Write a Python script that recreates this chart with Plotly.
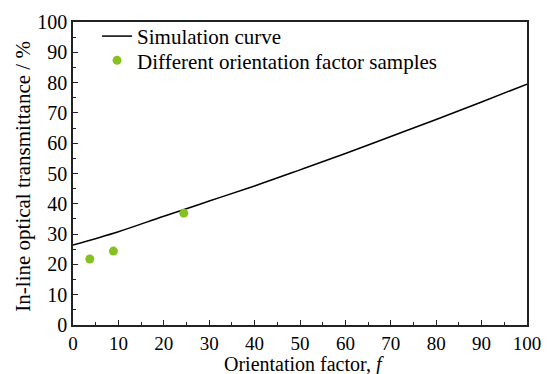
import plotly.graph_objects as go

# Simulated in-line transmittance vs orientation factor
sim_f = [0, 10, 20, 30, 40, 50, 60, 70, 80, 90, 100]
sim_t = [26.4, 30.8, 35.9, 40.9, 45.9, 51.2, 56.6, 62.2, 67.8, 73.6, 79.5]

# Measured samples with different orientation factors
sample_f = [3.7, 8.9, 24.4]
sample_t = [21.8, 24.4, 36.9]

x_title = "Orientation factor, <i>f</i>"
y_title = "In-line optical transmittance / %"

FONT = "'Liberation Serif', 'Times New Roman', Times, serif"

fig = go.Figure()
fig.add_trace(go.Scatter(
    x=sim_f, y=sim_t, mode="lines", name="Simulation curve",
    line=dict(color="black", width=1.5, shape="spline"),
    legend="legend",
))
fig.add_trace(go.Scatter(
    x=sample_f, y=sample_t, mode="markers", name="Different orientation factor samples",
    marker=dict(color="#86c21f", size=9),
    legend="legend2",
))

axis_common = dict(
    showgrid=False, zeroline=False, automargin=False,
    showline=True, linecolor="#222", linewidth=1.5, mirror=True,
    ticks="inside", ticklen=5, tickwidth=1, tickcolor="#222",
    range=[0, 100], dtick=10, tick0=0,
    minor=dict(ticks="inside", ticklen=3, dtick=5, tickcolor="#222"),
)
fig.update_xaxes(tickfont=dict(family=FONT, size=19, color="black"), **axis_common)
fig.update_yaxes(tickfont=dict(family=FONT, size=20, color="black"), **axis_common)

# Axis titles
fig.add_annotation(
    text=x_title, xref="paper", yref="paper", x=0.509, y=-0.132,
    xanchor="center", yanchor="middle", showarrow=False,
    font=dict(family=FONT, size=20, color="black"),
)
fig.add_annotation(
    text=y_title, xref="paper", yref="paper", x=-0.112, y=0.49,
    xanchor="center", yanchor="middle", showarrow=False, textangle=-90,
    font=dict(family=FONT, size=21, color="black"),
)

legend_common = dict(
    xanchor="left", yanchor="top",
    bgcolor="rgba(0,0,0,0)", borderwidth=0,
    font=dict(family=FONT, size=21, color="black"),
    itemwidth=30,
)

fig.update_layout(
    width=549, height=374,
    margin=dict(l=73, r=22, t=22, b=49),
    plot_bgcolor="white", paper_bgcolor="white",
    showlegend=True,
    legend=dict(x=0.053, y=1.02, **legend_common),
    legend2=dict(x=0.053, y=0.94, **legend_common),
)

fig.write_html("out.html")
